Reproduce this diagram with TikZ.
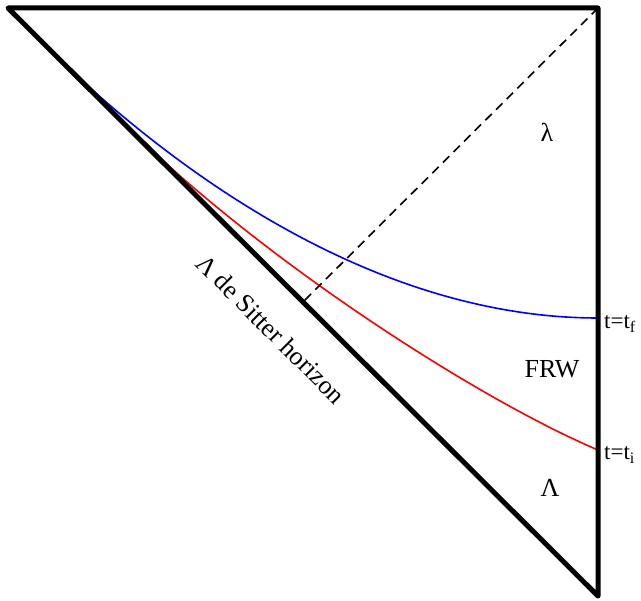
\documentclass[tikz,border=0pt]{standalone}
\usepackage{fontspec}
\setmainfont{Liberation Serif}
\usepackage{tikz}
\usetikzlibrary{calc,positioning}
\tikzset{
  edge/.style={
    line width = 5pt,
    line join = round,
    line cap = round
  },
  horizon/.style={
    line width = 1.6pt,
    dash pattern = on 9pt off 6pt
  },
  slice/.style={
    line width = 1.6pt
  },
  region/.style={
    font = \fontsize{26}{30}\selectfont,
    inner sep = 0pt
  },
  timelabel/.style={
    anchor = base west,
    font = \fontsize{23}{27}\selectfont,
    inner sep = 0pt
  }
}

\begin{document}
\begin{tikzpicture}[x=1pt,y=-1pt]
    \useasboundingbox (0,0) rectangle (641,601);
    % corners of the diagram
    \coordinate (tl) at (8,8);
    \coordinate (tr) at (598,8);
    \coordinate (br) at (598,596);
    \coordinate (mid) at ($(tl)!0.5!(br)$);
    \coordinate (tf) at (598,318);
    \coordinate (ti) at (598,450);
    \coordinate (rs) at (120,120);

    % curves
    \draw[slice, blue] (tl) .. controls (40,40) and (290,318) .. (tf);
    \draw[slice, red] (rs) .. controls (260,260) and (480,400) .. (ti);
    \draw[horizon] (tr) -- (mid);
    \draw[edge] (br) -- (tl) -- (tr) -- (br);

    % labels
    \node[region] (lam) at (547,132) {λ};
    \node[region] (frw) at (552,369) {FRW};
    \node[region] (Lam) at (550,488) {Λ};
    \node[timelabel] (lf) at (604,329) {t=t\textsubscript{f}};
    \node[timelabel] (li) at (604,460) {t=t\textsubscript{i}};
    \node[region, rotate=-45] (hor) at (271,329) {Λ de Sitter horizon};
\end{tikzpicture}
\end{document}
